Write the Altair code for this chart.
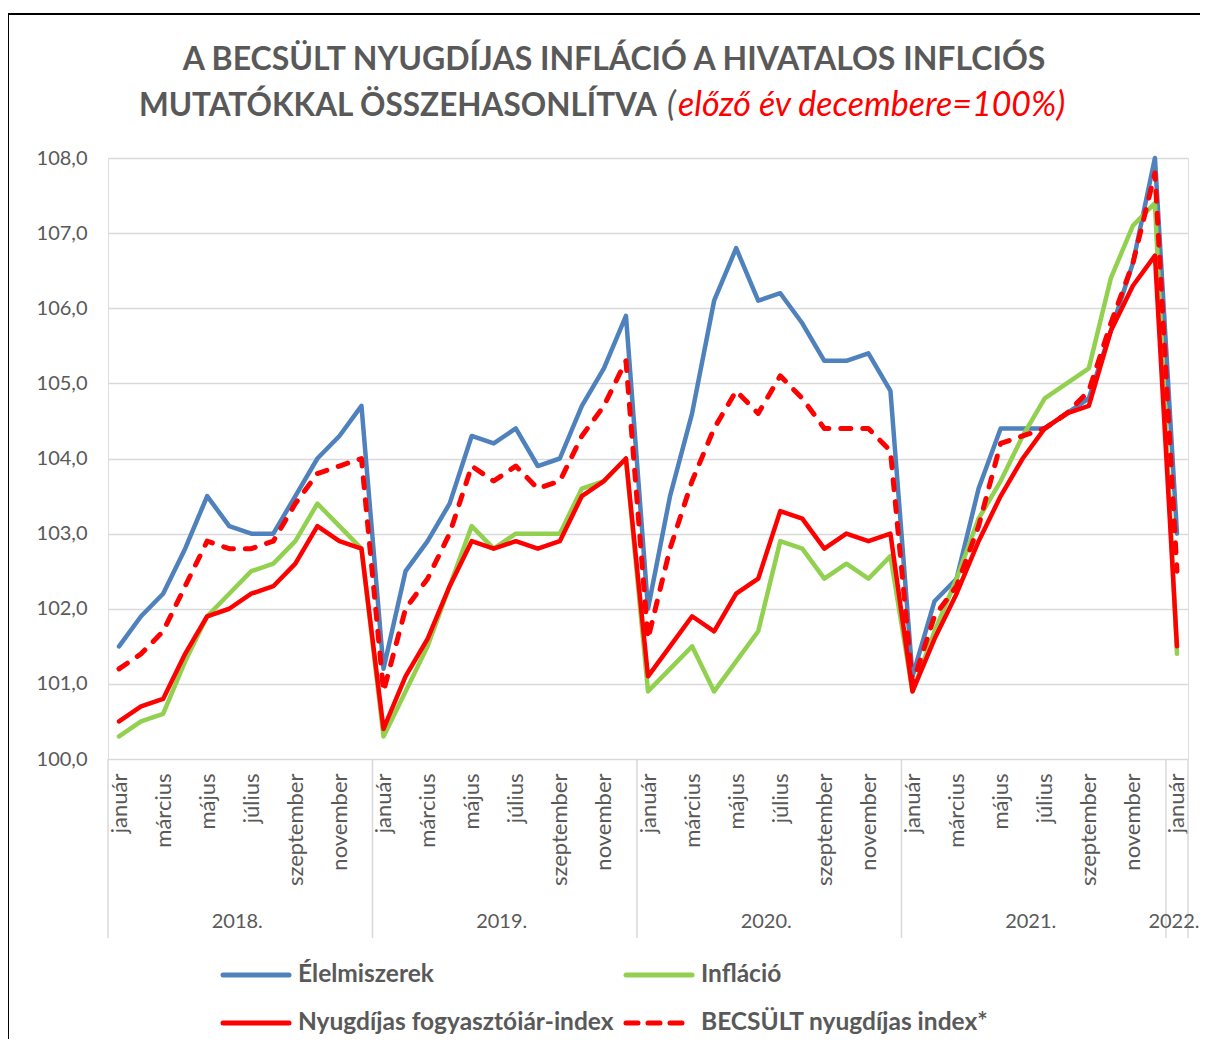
import altair as alt
import pandas as pd

# ---------------- data ----------------
months_hu = ["január", "február", "március", "április", "május", "június",
             "július", "augusztus", "szeptember", "október", "november", "december"]
n_points = 49  # 2018 jan .. 2022 jan

series_names = ["Élelmiszerek", "Infláció", "Nyugdíjas fogyasztóiár-index", "BECSÜLT nyugdíjas index*"]
series_colors = ["#4F81BD", "#92D050", "#FF0000", "#FF0000"]

elelmiszerek = [
    101.5, 101.9, 102.2, 102.8, 103.5, 103.1, 103.0, 103.0, 103.5, 104.0, 104.3, 104.7,
    101.2, 102.5, 102.9, 103.4, 104.3, 104.2, 104.4, 103.9, 104.0, 104.7, 105.2, 105.9,
    102.0, 103.5, 104.6, 106.1, 106.8, 106.1, 106.2, 105.8, 105.3, 105.3, 105.4, 104.9,
    101.1, 102.1, 102.4, 103.6, 104.4, 104.4, 104.4, 104.6, 104.8, 105.7, 106.6, 108.0,
    103.0]
inflacio = [
    100.3, 100.5, 100.6, 101.3, 101.9, 102.2, 102.5, 102.6, 102.9, 103.4, 103.1, 102.8,
    100.3, 100.9, 101.5, 102.3, 103.1, 102.8, 103.0, 103.0, 103.0, 103.6, 103.7, 104.0,
    100.9, 101.2, 101.5, 100.9, 101.3, 101.7, 102.9, 102.8, 102.4, 102.6, 102.4, 102.7,
    100.9, 101.7, 102.4, 103.2, 103.7, 104.3, 104.8, 105.0, 105.2, 106.4, 107.1, 107.4,
    101.4]
nyugdijas = [
    100.5, 100.7, 100.8, 101.4, 101.9, 102.0, 102.2, 102.3, 102.6, 103.1, 102.9, 102.8,
    100.4, 101.1, 101.6, 102.3, 102.9, 102.8, 102.9, 102.8, 102.9, 103.5, 103.7, 104.0,
    101.1, 101.5, 101.9, 101.7, 102.2, 102.4, 103.3, 103.2, 102.8, 103.0, 102.9, 103.0,
    100.9, 101.6, 102.2, 102.9, 103.5, 104.0, 104.4, 104.6, 104.7, 105.7, 106.3, 106.7,
    101.5]
becsult = [
    101.2, 101.4, 101.7, 102.3, 102.9, 102.8, 102.8, 102.9, 103.4, 103.8, 103.9, 104.0,
    100.9, 102.0, 102.4, 103.0, 103.9, 103.7, 103.9, 103.6, 103.7, 104.3, 104.7, 105.3,
    101.6, 102.8, 103.7, 104.4, 104.9, 104.6, 105.1, 104.8, 104.4, 104.4, 104.4, 104.1,
    101.0, 101.9, 102.3, 103.1, 104.2, 104.3, 104.4, 104.6, 104.9, 105.8, 106.6, 107.8,
    102.5]

year_labels = ["2018.", "2019.", "2020.", "2021.", "2022."]
year_centers = [5.5, 17.5, 29.5, 41.5, 48]
year_bounds = [-0.5, 11.5, 23.5, 35.5, 47.5, 48.5]

title_line1 = "A BECSÜLT NYUGDÍJAS INFLÁCIÓ A HIVATALOS INFLCIÓS"
title_line2a = "MUTATÓKKAL ÖSSZEHASONLÍTVA"
title_line2b = "("
title_line2c = "előző év decembere=100%)"

# ---------------- layout ----------------
W, H = 1080, 601
FONT = "Lato"
GREY = "#595959"
GRID = "#D9D9D9"

rows = []
for name, vals in zip(series_names, [elelmiszerek, inflacio, nyugdijas, becsult]):
    for i, v in enumerate(vals):
        rows.append({"idx": i, "series": name, "value": v})
df = pd.DataFrame(rows)

x_scale = alt.Scale(domain=[-0.5, n_points - 0.5], nice=False, zero=False)
y_scale = alt.Scale(domain=[100, 108], nice=False, zero=False)

month_expr = "[" + ",".join("'%s'" % m for m in months_hu) + "][datum.value % 12]"

base = alt.Chart(df)

# axes carrier (invisible) + grid
axes_layer = base.mark_line(opacity=0).encode(
    x=alt.X("idx:Q", scale=x_scale,
            axis=alt.Axis(values=list(range(0, n_points, 2)), labelExpr=month_expr,
                          labelAngle=270, labelAlign="right", labelBaseline="middle",
                          labelPadding=14, labelFontSize=22, labelColor=GREY, labelFont=FONT,
                          ticks=False, domain=False, grid=False, title=None,
                          labelOverlap=False, labelBound=False, labelFlush=False)),
    y=alt.Y("value:Q", scale=y_scale,
            axis=alt.Axis(values=list(range(100, 109)),
                          labelExpr="replace(format(datum.value, '.1f'), '.', ',')",
                          labelFontSize=20, labelColor=GREY, labelFont=FONT, labelPadding=21,
                          ticks=False, domain=False, grid=True, gridColor=GRID, gridWidth=1.5,
                          title=None)),
)

line_layers = []
dashes = [None, None, None, [10, 12]]
widths = [4.5, 4.5, 4.5, 5]
for name, col, dash, w in zip(series_names, series_colors, dashes, widths):
    kw = dict(color=col, strokeWidth=w, strokeCap="round", strokeJoin="round")
    if dash:
        kw["strokeDash"] = dash
    line_layers.append(
        base.transform_filter(alt.datum.series == name).mark_line(**kw).encode(
            x=alt.X("idx:Q", scale=x_scale), y=alt.Y("value:Q", scale=y_scale))
    )

# year separators and labels
sep_df = pd.DataFrame({"b": year_bounds})
seps = alt.Chart(sep_df).mark_rule(color=GRID, strokeWidth=1.5).encode(
    x=alt.X("b:Q", scale=x_scale), y=alt.value(H), y2=alt.value(H + 179))

yr_df = pd.DataFrame({"c": year_centers, "t": year_labels})
yrs = alt.Chart(yr_df).mark_text(font=FONT, fontSize=20, color=GREY, baseline="middle", dx=-3).encode(
    x=alt.X("c:Q", scale=x_scale), y=alt.value(H + 163), text="t:N")

# border of the chart area
border = alt.Chart(pd.DataFrame({"k": [0]})).mark_rect(
    fill=None, fillOpacity=0, stroke="black", strokeWidth=2).encode(
    x=alt.value(-100), x2=alt.value(1200), y=alt.value(-144), y2=alt.value(1000))

# title (text marks to allow mixed styling)
def txt(t, x, y, align, **kw):
    return alt.Chart(pd.DataFrame({"t": [t]})).mark_text(
        align=align, baseline="alphabetic", font=FONT, **kw).encode(
        text="t:N", x=alt.value(x), y=alt.value(y))

t1 = txt(title_line1, 506, 70 - 158, "center", fontSize=32, fontWeight="bold", color=GREY)
t2a = txt(title_line2a, 549, 116 - 158, "right", fontSize=31.5, fontWeight="bold", color=GREY)
t2b = txt(title_line2b, 559, 116 - 158, "left", fontSize=34, fontStyle="italic", color=GREY)
t2c = txt(title_line2c, 570, 116 - 158, "left", fontSize=34, fontStyle="italic", color="#FF0000")

# legend (manual)
def leg_entry(name, col, dash, x0, y):
    kw = dict(color=col, strokeWidth=5, strokeCap="round")
    if dash:
        kw["strokeDash"] = dash
    sym = alt.Chart(pd.DataFrame({"k": [0]})).mark_rule(**kw).encode(
        x=alt.value(x0), x2=alt.value(x0 + 66), y=alt.value(y))
    lab = alt.Chart(pd.DataFrame({"t": [name]})).mark_text(
        align="left", baseline="middle", font=FONT, fontSize=24.5, fontWeight="bold", color=GREY).encode(
        text="t:N", x=alt.value(x0 + 75), y=alt.value(y))
    return [sym, lab]

leg = []
leg_pos = [(115, 817), (518, 817), (115, 865), (518, 865)]
for name, col, dash, (lx, ly) in zip(series_names, series_colors, dashes, leg_pos):
    leg += leg_entry(name, col, [12, 10] if dash else None, lx, ly)

chart = alt.layer(border, axes_layer, seps, yrs, *line_layers, t1, t2a, t2b, t2c, *leg).properties(
    width=W, height=H,
    autosize=alt.AutoSizeParams(type="none"),
    padding={"left": 100, "top": 150, "right": 12, "bottom": 280},
).configure_view(stroke=None).configure(background="white")

chart.save("out.html", embed_options={"renderer": "svg", "actions": False})
